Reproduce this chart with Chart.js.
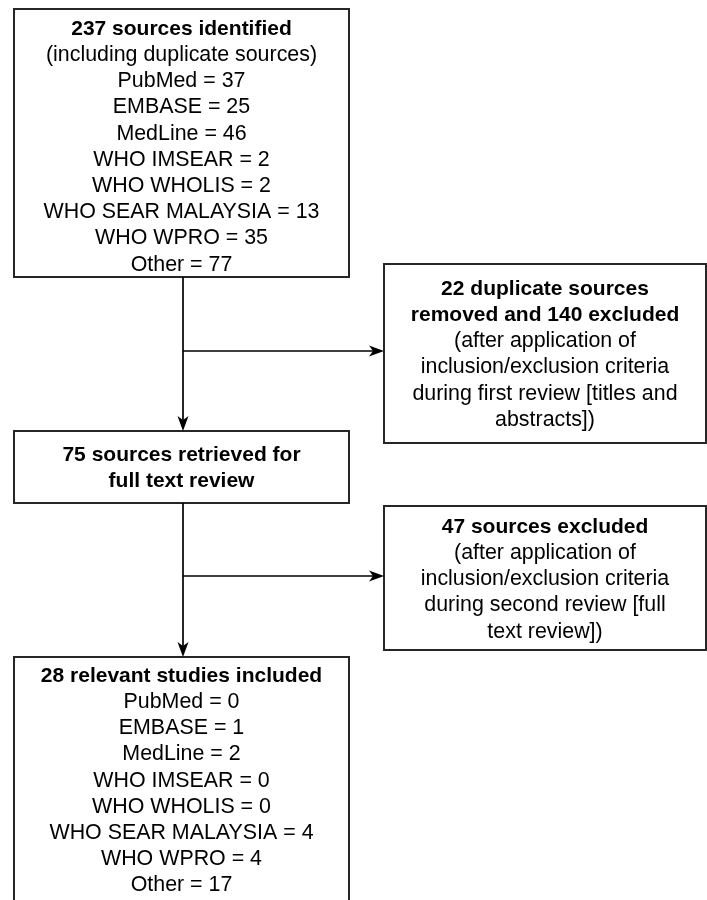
<!DOCTYPE html>
<html>
<head>
<meta charset="utf-8">
<script src="https://cdn.jsdelivr.net/npm/chart.js@4"></script>
<style>
  html, body { margin: 0; padding: 0; background: #fff; }
  canvas { display: block; }
</style>
</head>
<body>
<canvas id="chart" width="707" height="900"></canvas>
<script>
// -------------------------------
// DONNEES
// -------------------------------
const databases = ['PubMed', 'EMBASE', 'MedLine', 'WHO IMSEAR', 'WHO WHOLIS', 'WHO SEAR MALAYSIA', 'WHO WPRO', 'Other'];
const identified = [37, 25, 46, 2, 2, 13, 35, 77];
const included = [0, 1, 2, 0, 0, 4, 4, 17];
const totalIdentified = 237;
const duplicates = 22;
const excludedFirst = 140;
const retrieved = 75;
const excludedSecond = 47;
const relevant = 28;

// texte de chaque boite : [lignes en gras, lignes normales]
const boxTexts = [
    [[totalIdentified + ' sources identified'],
     ['(including duplicate sources)'].concat(databases.map((d, i) => d + ' = ' + identified[i]))],
    [[duplicates + ' duplicate sources', 'removed and ' + excludedFirst + ' excluded'],
     ['(after application of', 'inclusion/exclusion criteria', 'during first review [titles and', 'abstracts])']],
    [[retrieved + ' sources retrieved for', 'full text review'], []],
    [[excludedSecond + ' sources excluded'],
     ['(after application of', 'inclusion/exclusion criteria', 'during second review [full', 'text review])']],
    [[relevant + ' relevant studies included'],
     databases.map((d, i) => d + ' = ' + included[i])]
];

// -------------------------------
// MISE EN PAGE (unites des axes)
// -------------------------------
const layout = [
    { x0: 14, y0: 9, x1: 349, y1: 277, top: 29 },
    { x0: 384, y0: 264, x1: 706, y1: 443, top: 289 },
    { x0: 14, y0: 431, x1: 349, y1: 503, top: 455 },
    { x0: 384, y0: 506, x1: 706, y1: 650, top: 527 },
    { x0: 14, y0: 657, x1: 349, y1: 915, top: 676 }
];
const stemX = 183;
const lineGap = 26.2;

// fleches : [x0, y0, x1, y1]
const arrows = [
    [stemX, 277, stemX, 431],
    [stemX, 351, 384, 351],
    [stemX, 503, stemX, 657],
    [stemX, 576, 384, 576]
];

// -------------------------------
// PLUGIN DE DESSIN
// -------------------------------
function arrowHead(ctx, x, y, dx, dy) {
    const len = 15, half = 5.5, notch = 4;
    const px = -dy, py = dx;
    ctx.beginPath();
    ctx.moveTo(x, y);
    ctx.lineTo(x - dx * len + px * half, y - dy * len + py * half);
    ctx.lineTo(x - dx * (len - notch), y - dy * (len - notch));
    ctx.lineTo(x - dx * len - px * half, y - dy * len - py * half);
    ctx.closePath();
    ctx.fill();
}

const flowPlugin = {
    id: 'flow',
    afterDraw(chart) {
        const ctx = chart.ctx;
        const sx = chart.scales.x, sy = chart.scales.y;
        const X = v => sx.getPixelForValue(v);
        const Y = v => sy.getPixelForValue(v);
        ctx.save();

        // boites
        ctx.strokeStyle = '#262626';
        ctx.lineWidth = 2;
        layout.forEach((b, i) => {
            ctx.strokeRect(X(b.x0), Y(b.y0), X(b.x1) - X(b.x0), Y(b.y1) - Y(b.y0));
            const [bold, normal] = boxTexts[i];
            const cx = (X(b.x0) + X(b.x1)) / 2;
            let y = Y(b.top);
            ctx.fillStyle = '#000';
            ctx.textAlign = 'center';
            ctx.textBaseline = 'middle';
            ctx.font = 'bold 21px "Liberation Sans", Arial, sans-serif';
            bold.forEach(t => { ctx.fillText(t, cx, y); y += lineGap; });
            ctx.font = '21.4px "Liberation Sans", Arial, sans-serif';
            normal.forEach(t => { ctx.fillText(t, cx, y); y += lineGap; });
        });

        // fleches
        ctx.strokeStyle = '#000';
        ctx.fillStyle = '#000';
        ctx.lineWidth = 1.7;
        arrows.forEach(a => {
            const x0 = X(a[0]), y0 = Y(a[1]), x1 = X(a[2]), y1 = Y(a[3]);
            const l = Math.hypot(x1 - x0, y1 - y0);
            const dx = (x1 - x0) / l, dy = (y1 - y0) / l;
            ctx.beginPath();
            ctx.moveTo(x0, y0);
            ctx.lineTo(x1 - dx * 8, y1 - dy * 8);
            ctx.stroke();
            arrowHead(ctx, x1, y1, dx, dy);
        });
        ctx.restore();
    }
};

new Chart(document.getElementById('chart').getContext('2d'), {
    type: 'scatter',
    data: { datasets: [{ data: [], pointRadius: 0 }] },
    options: {
        responsive: false,
        animation: false,
        layout: { padding: 0 },
        plugins: { legend: { display: false }, tooltip: { enabled: false } },
        scales: {
            x: { type: 'linear', min: 0, max: 707, display: false },
            y: { type: 'linear', min: 0, max: 900, reverse: true, display: false }
        }
    },
    plugins: [flowPlugin]
});
</script>
</body>
</html>
